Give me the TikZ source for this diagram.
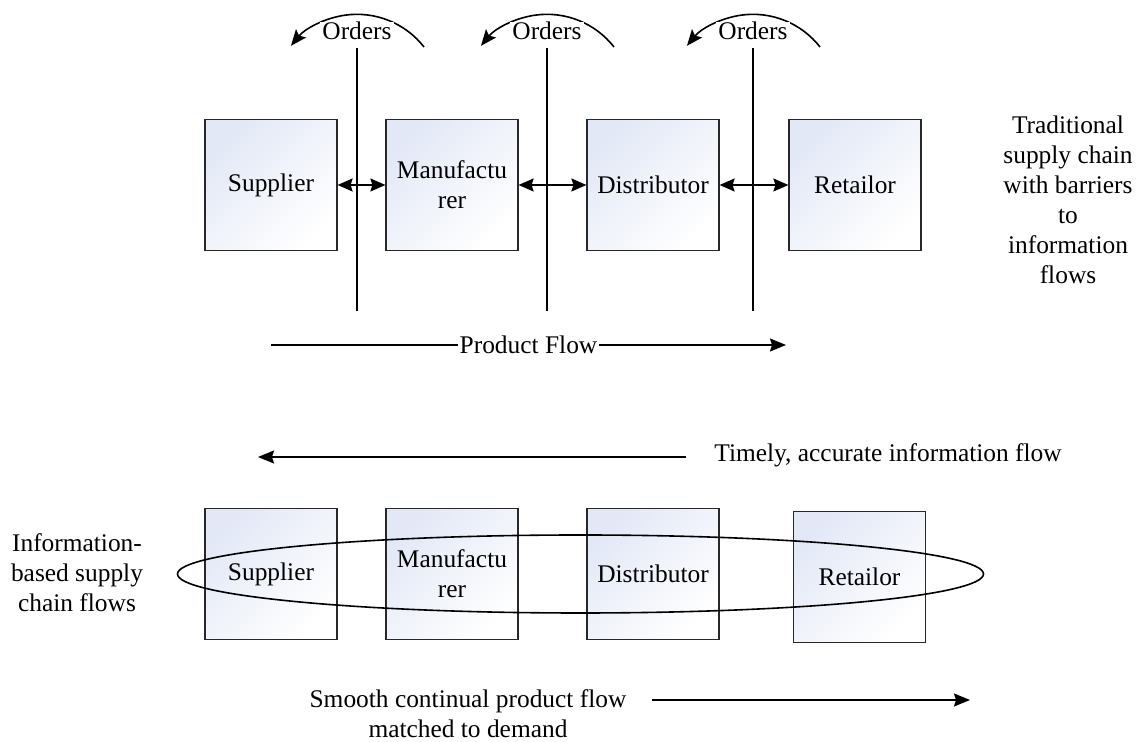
\documentclass[tikz,border=0pt]{standalone}
\usepackage{fontspec}
\setmainfont{Liberation Serif}
\usepackage{tikz}
\usetikzlibrary{positioning, shapes.geometric, arrows.meta}

\definecolor{boxtint}{RGB}{226,232,246}
\definecolor{boxline}{RGB}{40,40,40}

\tikzset{
  chainbox/.style={draw=boxline, line width=0.6pt, top color=boxtint, bottom color=white,
    shading angle=45, minimum width=66pt, minimum height=65.5pt, inner sep=0pt, align=center},
  barrier/.style={line width=0.9pt},
  flowline/.style={line width=0.8pt, -{Stealth[length=8pt, width=6.5pt, inset=1pt]}},
  linkline/.style={line width=0.8pt, {Stealth[length=7.5pt, width=6.5pt, inset=1pt]}-{Stealth[length=7.5pt, width=6.5pt, inset=1pt]}},
  note/.style={align=center, inner sep=1pt}
}

\begin{document}
\begin{tikzpicture}[x=0.5pt, y=-0.5pt, font=\fontsize{12.7}{15}\selectfont]
        \useasboundingbox (0,0) rectangle (1137,742);
        % Traditional chain: four firms
        \node[chainbox] (sup1) at (271,185) {Supplier};
        \node[chainbox] (man1) at (452,185) {Manufactu\\rer};
        \node[chainbox] (dis1) at (653,185) {Distributor};
        \node[chainbox] (ret1) at (855,185) {Retailor};
        % Barriers with orders passing over them
        \foreach \bx/\nm in {357/1, 547/2, 753/3} {
          \coordinate (bar\nm top) at (\bx,48);
          \coordinate (bar\nm bot) at (\bx,311);
          \draw[barrier] (bar\nm top) -- (bar\nm bot);
          \coordinate (ord\nm start) at (\bx+67,47);
          \draw[line width=0.8pt, -{Stealth[length=8pt, width=6.5pt, inset=1.5pt]}]
            (ord\nm start) arc[start angle=38, end angle=141, radius=42.5pt];
          \node[note, fill=white, inner ysep=0pt] (ord\nm) at (\bx,31) {Orders};
        }
        % Links between neighbours
        \draw[linkline] (sup1.east) -- (man1.west);
        \draw[linkline] (man1.east) -- (dis1.west);
        \draw[linkline] (dis1.east) -- (ret1.west);
        % Product flow under the barriers
        \coordinate (pf start) at (271,345);
        \coordinate (pf end) at (786,345);
        \draw[flowline] (pf start) -- node[fill=white, inner sep=1pt] (pf) {Product Flow} (pf end);
        \node[note] (trad) at (1068,200) {Traditional\\supply chain\\with barriers\\to\\information\\flows};

        % Information-based chain
        \node[note, anchor=west] (info) at (712,455) {Timely, accurate information flow};
        \coordinate (if start) at (686,457);
        \coordinate (if end) at (258,457);
        \draw[flowline] (if start) -- (if end);
        \node[chainbox] (sup2) at (271,574) {Supplier};
        \node[chainbox] (man2) at (452,574) {Manufactu\\rer};
        \node[chainbox] (dis2) at (653,574) {Distributor};
        \node[chainbox] (ret2) at (859.5,577) {Retailor};
        \node[draw, ellipse, line width=0.8pt, minimum width=403pt, minimum height=39pt] (flows) at (580.5,574) {};
        \node[note] (based) at (77,573) {Information-\\based supply\\chain flows};
        % Product flow matched to demand
        \node[note] (smooth) at (468,714) {Smooth continual product flow\\matched to demand};
        \coordinate (sf start) at (652,700);
        \coordinate (sf end) at (970,700);
        \draw[flowline] (sf start) -- (sf end);
      \end{tikzpicture}
\end{document}
